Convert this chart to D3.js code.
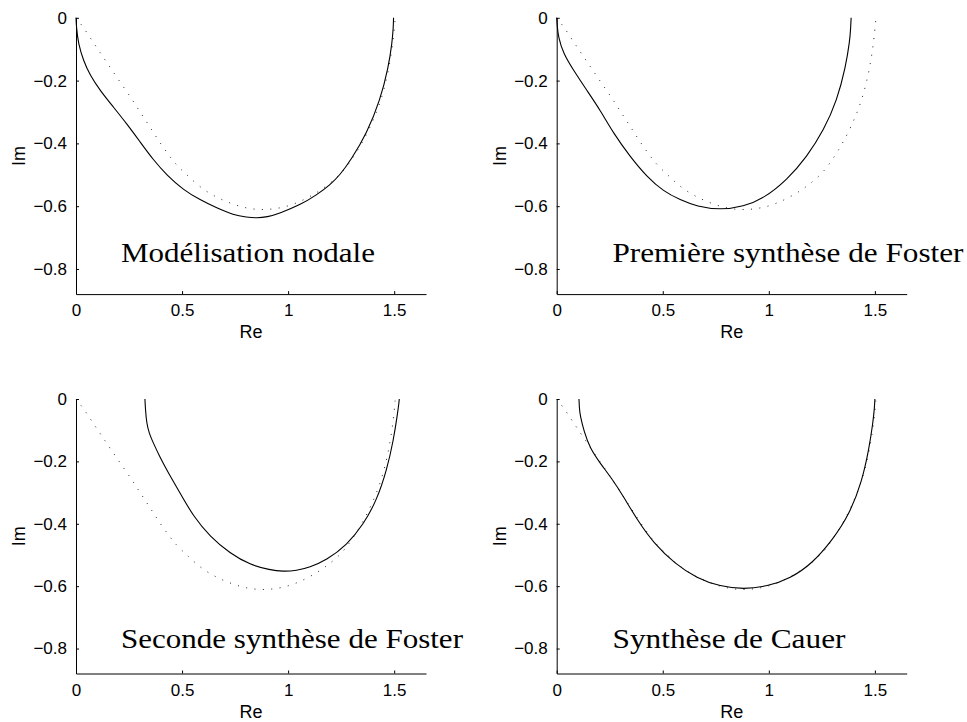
<!DOCTYPE html>
<html>
<head>
<meta charset="utf-8">
<script src="https://cdn.jsdelivr.net/npm/d3@7"></script>
<style>
    body { margin: 0; background: #fff; }
    svg text { font-family: "Liberation Sans", Arial, Helvetica, sans-serif; }
</style>
</head>
<body>
<svg width="967" height="722"></svg>
<script>
// axes
var reTicks = [0, 0.5, 1, 1.5]
var imTicks = [0, -0.2, -0.4, -0.6, -0.8]
var reDomain = [0, 1.65]
var imDomain = [-0.88, 0]

// reference impedance (dotted), the same in every panel
var refRe = [0, 0.035, 0.079, 0.123, 0.167, 0.211, 0.258, 0.299, 0.343, 0.384, 0.431, 0.478, 0.522, 0.566, 0.629, 0.698, 0.774, 0.852, 0.931, 1.009, 1.08, 1.143, 1.198, 1.253, 1.3, 1.35, 1.4, 1.44, 1.47, 1.49, 1.5, 1.505]
var refIm = [0, -0.03, -0.076, -0.12, -0.164, -0.208, -0.253, -0.297, -0.342, -0.386, -0.432, -0.473, -0.499, -0.529, -0.56, -0.583, -0.602, -0.612, -0.61, -0.599, -0.578, -0.554, -0.527, -0.495, -0.452, -0.398, -0.33, -0.26, -0.18, -0.1, -0.04, 0]

// modelisation nodale
var nodalRe = [0, 0.002, 0.011, 0.035, 0.066, 0.113, 0.176, 0.239, 0.302, 0.365, 0.428, 0.506, 0.585, 0.664, 0.742, 0.805, 0.852, 0.9, 0.962, 1.057, 1.135, 1.198, 1.245, 1.296, 1.371, 1.434, 1.473, 1.49, 1.496, 1.497]
var nodalIm = [0, -0.03, -0.083, -0.136, -0.183, -0.231, -0.284, -0.337, -0.395, -0.453, -0.501, -0.548, -0.58, -0.606, -0.628, -0.635, -0.638, -0.635, -0.622, -0.596, -0.564, -0.532, -0.5, -0.453, -0.368, -0.262, -0.157, -0.08, -0.03, 0]

// premiere synthese de Foster
var foster1Re = [0, 0.003, 0.008, 0.031, 0.079, 0.142, 0.205, 0.268, 0.346, 0.425, 0.504, 0.582, 0.661, 0.771, 0.881, 0.976, 1.086, 1.18, 1.259, 1.322, 1.362, 1.382, 1.386, 1.388]
var foster1Im = [0, -0.03, -0.061, -0.114, -0.167, -0.231, -0.294, -0.368, -0.442, -0.506, -0.553, -0.58, -0.601, -0.612, -0.601, -0.575, -0.516, -0.442, -0.358, -0.262, -0.157, -0.072, -0.03, 0]

// seconde synthese de Foster
var foster2Re = [0.325, 0.327, 0.333, 0.345, 0.365, 0.395, 0.428, 0.491, 0.554, 0.632, 0.726, 0.821, 0.915, 0.975, 1.04, 1.1, 1.182, 1.277, 1.355, 1.418, 1.465, 1.497, 1.516, 1.522, 1.524]
var foster2Im = [0, -0.03, -0.078, -0.11, -0.142, -0.185, -0.228, -0.302, -0.377, -0.441, -0.495, -0.532, -0.548, -0.553, -0.55, -0.54, -0.516, -0.468, -0.402, -0.324, -0.228, -0.131, -0.046, -0.015, 0]

// synthese de Cauer
var cauerRe = [0.105, 0.107, 0.11, 0.129, 0.157, 0.205, 0.265, 0.315, 0.38, 0.458, 0.556, 0.661, 0.771, 0.881, 0.992, 1.102, 1.205, 1.3, 1.38, 1.44, 1.472, 1.49, 1.498, 1.5]
var cauerIm = [0, -0.03, -0.051, -0.105, -0.158, -0.206, -0.26, -0.313, -0.388, -0.463, -0.527, -0.575, -0.601, -0.61, -0.601, -0.575, -0.527, -0.452, -0.37, -0.262, -0.16, -0.08, -0.03, 0]

var titles = ["Modélisation nodale", "Première synthèse de Foster",
    "Seconde synthèse de Foster", "Synthèse de Cauer"]

// subplot layout (pixels) and title anchor (data units), like text(x, y, ...)
var panels = [
    {left: 76, top: 17.8, w: 350, h: 276.3, re: nodalRe, im: nodalIm, tx: 0.212, ty: -0.777, tw: 254},
    {left: 556.7, top: 17.8, w: 350, h: 276.3, re: foster1Re, im: foster1Im, tx: 0.263, ty: -0.777, tw: 351},
    {left: 76, top: 399, w: 350, h: 274.5, re: foster2Re, im: foster2Im, tx: 0.212, ty: -0.798, tw: 342},
    {left: 556.7, top: 399, w: 350, h: 274.5, re: cauerRe, im: cauerIm, tx: 0.263, ty: -0.798, tw: 233}
]

var svg = d3.select("svg")
var fmt = d3.format("~g")

function drawPanel(p, i) {
    var scX = d3.scaleLinear().domain(reDomain).range([0, p.w])
    var scY = d3.scaleLinear().domain(imDomain).range([p.h, 0])

    var g = svg.append("g")
        .attr("transform", `translate(${p.left}, ${p.top})`)

    var lnMkr = d3.line().curve(d3.curveBasis)
        .x(d => scX(d[0])).y(d => scY(d[1]))

    // reference, dotted
    g.append("path")
        .attr("fill", "none").attr("stroke", "#222")
        .attr("stroke-width", 1)
        .attr("stroke-dasharray", "1,7.4")
        .attr("d", lnMkr(d3.zip(refRe, refIm)))

    // synthesis, solid
    g.append("path")
        .attr("fill", "none").attr("stroke", "#000")
        .attr("stroke-width", 1.1)
        .attr("d", lnMkr(d3.zip(p.re, p.im)))

    var axX = d3.axisBottom(scX).tickValues(reTicks).tickFormat(fmt)
        .tickSizeInner(-3).tickSizeOuter(0).tickPadding(10)
    var axY = d3.axisLeft(scY).tickValues(imTicks).tickFormat(fmt)
        .tickSizeInner(-3).tickSizeOuter(0).tickPadding(9)

    g.append("g").attr("transform", `translate(0, ${p.h})`).call(axX)
    g.append("g").call(axY)

    g.selectAll(".tick text")
        .attr("font-family", null).attr("font-size", "17px").attr("fill", "#000")
    g.selectAll(".domain, .tick line").attr("stroke", "#000")

    g.append("text")
        .attr("x", p.w / 2).attr("y", p.h + 44)
        .attr("text-anchor", "middle").attr("font-size", "18px")
        .text("Re")

    g.append("text")
        .attr("transform", `translate(-51, ${p.h / 2}) rotate(-90)`)
        .attr("text-anchor", "middle").attr("font-size", "18px")
        .text("Im")

    g.append("text")
        .attr("x", scX(p.tx)).attr("y", scY(p.ty))
        .style("font-family", '"Liberation Serif", "DejaVu Serif", serif')
        .attr("font-size", "27px")
        .attr("textLength", p.tw).attr("lengthAdjust", "spacingAndGlyphs")
        .text(titles[i])
}

panels.forEach(drawPanel)
</script>
</body>
</html>
